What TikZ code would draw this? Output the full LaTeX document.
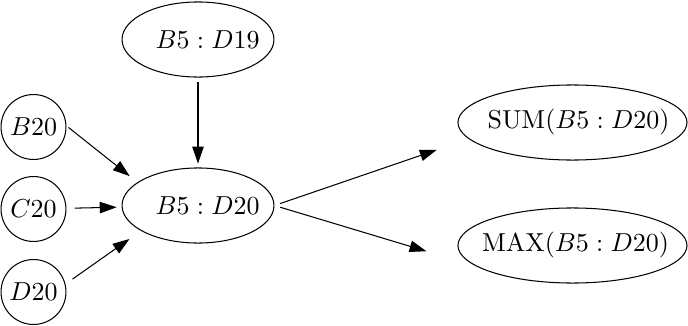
\documentclass[tikz,border=0pt]{standalone}
\usetikzlibrary{shapes.geometric, arrows.meta, positioning}

\begin{document}
\begin{tikzpicture}[
        x=0.385pt, y=-0.385pt,
        cellnode/.style={circle, draw, thin, minimum size=25pt, inner sep=0pt},
        rangenode/.style={ellipse, draw, thin, minimum width=58.5pt, minimum height=28.9pt, inner sep=0pt},
        funcnode/.style={rangenode, minimum width=88.2pt},
        arrow/.style={-{Triangle[length=6.5pt, width=4.4pt]}, thin}
    ]
        \useasboundingbox (0,0) rectangle (688,326);

        % ranges
        \node[rangenode] (range19) at (198,39.5) {\makebox[0pt]{\hspace{7.4pt}$B5:D19$}};
        \node[rangenode] (range20) at (198,205.5) {\makebox[0pt]{\hspace{7.4pt}$B5:D20$}};

        % single cells
        \node[cellnode] (b20) at (33.5,127) {$B20$};
        \node[cellnode] (c20) at (33.5,209) {$C20$};
        \node[cellnode] (d20) at (33.5,292) {$D20$};

        % functions
        \node[funcnode] (sum) at (572.5,122.5) {\makebox[0pt]{\hspace{4.6pt}$\mathrm{SUM}(B5:D20)$}};
        \node[funcnode] (max) at (572.5,245.5) {\makebox[0pt]{\hspace{2.3pt}$\mathrm{MAX}(B5:D20)$}};

        \draw[arrow, shorten <=1.9pt, shorten >=1.5pt] (range19) -- (range20);
        \draw[arrow, shorten <=1pt, shorten >=3.8pt] (b20.2) -- (range20.159);
        \draw[arrow, shorten <=3.1pt, shorten >=1.9pt] (c20) -- (range20);
        \draw[arrow, shorten <=3.3pt, shorten >=5.4pt] (d20.14) -- (range20.204);
        \draw[arrow, shorten <=2.3pt, shorten >=13pt] (range20.east) -- (sum.189);
        \draw[arrow, shorten <=2.3pt, shorten >=19.8pt] (range20.east) -- (max.192);
\end{tikzpicture}
\end{document}
